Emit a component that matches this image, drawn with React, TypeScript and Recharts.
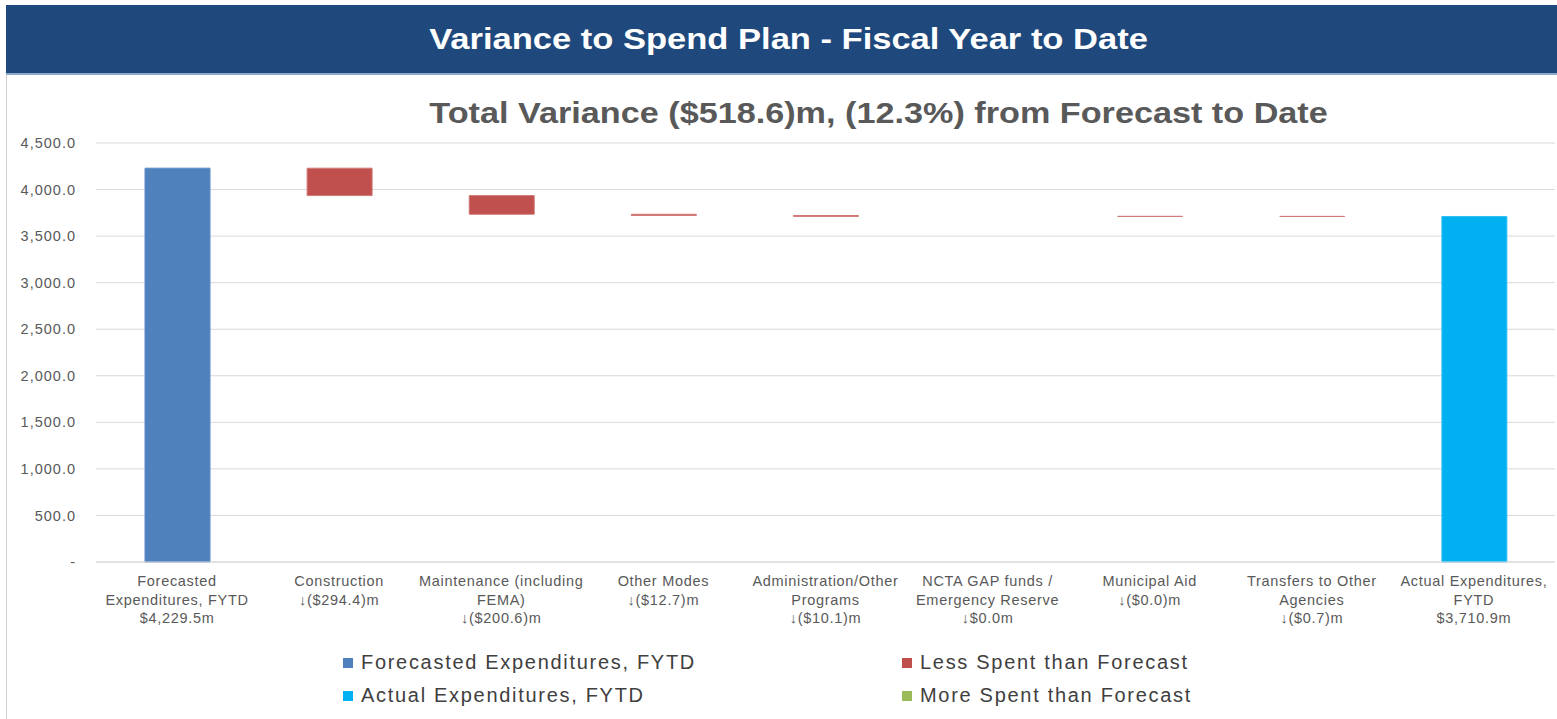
import React from "react";
import { BarChart, Bar, XAxis, YAxis, CartesianGrid } from "recharts";

const categories = [
  "Forecasted Expenditures, FYTD",
  "Construction",
  "Maintenance (including FEMA)",
  "Other Modes",
  "Administration/Other Programs",
  "NCTA GAP funds / Emergency Reserve",
  "Municipal Aid",
  "Transfers to Other Agencies",
  "Actual Expenditures, FYTD",
];

const categoryLabelLines = [
  ["Forecasted", "Expenditures, FYTD", "$4,229.5m"],
  ["Construction", "↓($294.4)m"],
  ["Maintenance (including", "FEMA)", "↓($200.6)m"],
  ["Other Modes", "↓($12.7)m"],
  ["Administration/Other", "Programs", "↓($10.1)m"],
  ["NCTA GAP funds /", "Emergency Reserve", "↓$0.0m"],
  ["Municipal Aid", "↓($0.0)m"],
  ["Transfers to Other", "Agencies", "↓($0.7)m"],
  ["Actual Expenditures,", "FYTD", "$3,710.9m"],
];

const forecastValues = [4229.5, 0, 0, 0, 0, 0, 0, 0, 0];
const lessSpentValues = [0, 294.4, 200.6, 12.7, 10.1, 0, 0.04, 0.7, 0];
const moreSpentValues = [0, 0, 0, 0, 0, 0, 0, 0, 0];
const actualValues = [0, 0, 0, 0, 0, 0, 0, 0, 3710.9];

const yTicks = [0, 500, 1000, 1500, 2000, 2500, 3000, 3500, 4000, 4500];

const legendItems = [
  { label: "Forecasted Expenditures, FYTD", color: "#4F81BD" },
  { label: "Less Spent than Forecast", color: "#C0504D" },
  { label: "Actual Expenditures, FYTD", color: "#00B0F0" },
  { label: "More Spent than Forecast", color: "#9BBB59" },
];

const titleText = "Variance to Spend Plan - Fiscal Year to Date";
const subtitleText = "Total Variance ($518.6)m, (12.3%) from Forecast to Date";

// build waterfall table
let running = 0;
const data = categories.map((name, i) => {
  let base = 0;
  if (forecastValues[i] > 0) {
    running = forecastValues[i];
  } else if (actualValues[i] > 0) {
    base = 0;
  } else {
    running = running - lessSpentValues[i] + moreSpentValues[i];
    base = running;
  }
  return {
    name,
    idx: i,
    base,
    forecast: forecastValues[i],
    less: lessSpentValues[i],
    more: moreSpentValues[i],
    actual: actualValues[i],
  };
});

const FONT = "'Liberation Sans', Arial, sans-serif";

const XTick = (props: any) => {
  const { x, y, payload } = props;
  const lines = categoryLabelLines[payload.index] || [];
  return (
    <g transform={`translate(${x},${y})`}>
      <text
        textAnchor="middle"
        fill="#595959"
        fontSize={14.5}
        fontFamily={FONT}
        style={{ letterSpacing: "0.7px" }}
      >
        {lines.map((l, i) => (
          <tspan key={i} x={0} dy={i === 0 ? 16 : 18.5}>
            {l}
          </tspan>
        ))}
      </text>
    </g>
  );
};

const yFmt = (v: number) =>
  v === 0
    ? "-"
    : v.toLocaleString("en-US", { minimumFractionDigits: 1, maximumFractionDigits: 1 });

export default function App() {
  return (
    <div
      style={{
        position: "absolute",
        left: 0,
        top: 0,
        width: 1557,
        height: 719,
        background: "#fff",
        fontFamily: FONT,
        overflow: "hidden",
      }}
    >
      <div
        style={{
          position: "absolute",
          left: 6,
          top: 5,
          width: 1551,
          height: 714,
          borderLeft: "1px solid #D0D0D0",
          borderTop: "1px solid #D0D0D0",
        }}
      />
      <div
        style={{
          position: "absolute",
          left: 6,
          top: 5,
          width: 1551,
          height: 68,
          background: "#1F497D",
          borderBottom: "2px solid #8EA9C8",
        }}
      />
      <div
        style={{
          position: "absolute",
          left: 16,
          top: 5,
          width: 1551,
          height: 68,
          lineHeight: "68px",
          textAlign: "center",
          color: "#fff",
          fontWeight: "bold",
          fontSize: 29,
          transform: "scaleX(1.19)",
          transformOrigin: "791px 0",
        }}
      >
        {titleText}
      </div>
      <div
        style={{
          position: "absolute",
          left: 100,
          top: 96,
          width: 1557,
          textAlign: "center",
          color: "#595959",
          fontWeight: "bold",
          fontSize: 30,
          transform: "scaleX(1.14)",
          transformOrigin: "778px 0",
        }}
      >
        {subtitleText}
      </div>
      <div style={{ position: "absolute", left: 0, top: 0 }}>
        <BarChart
          width={1557}
          height={719}
          data={data}
          margin={{ top: 143, right: 2, left: 6, bottom: 97 }}
          barSize={65}
        >
          <CartesianGrid vertical={false} stroke="#D9D9D9" />
          <XAxis
            dataKey="name"
            interval={0}
            tick={<XTick />}
            tickLine={false}
            axisLine={{ stroke: "#D9D9D9" }}
            height={60}
          />
          <YAxis
            width={90}
            domain={[0, 4500]}
            ticks={yTicks}
            tickFormatter={yFmt}
            axisLine={false}
            tickLine={false}
            tickMargin={14}
            tick={{ fill: "#595959", fontSize: 14.5, fontFamily: FONT, style: { letterSpacing: "1px" } }}
          />
          <Bar dataKey="base" stackId="a" fill="transparent" isAnimationActive={false} />
          <Bar dataKey="forecast" stackId="a" fill="#4F81BD" stroke="#5A8AC6" isAnimationActive={false} />
          <Bar dataKey="less" stackId="a" fill="#C0504D" stroke="#D07A78" strokeWidth={1} isAnimationActive={false} />
          <Bar dataKey="more" stackId="a" fill="#9BBB59" isAnimationActive={false} />
          <Bar dataKey="actual" stackId="a" fill="#00B0F0" stroke="#33C0F3" isAnimationActive={false} />
        </BarChart>
      </div>
      {legendItems.map((it, i) => (
        <div
          key={it.label}
          style={{
            position: "absolute",
            left: i % 2 === 0 ? 343 : 902,
            top: i < 2 ? 651 : 684,
            display: "flex",
            alignItems: "center",
            fontSize: 20,
            color: "#404040",
            whiteSpace: "nowrap",
            letterSpacing: "1.7px",
          }}
        >
          <span
            style={{
              display: "inline-block",
              width: 10,
              height: 10,
              background: it.color,
              marginRight: 8,
            }}
          />
          {it.label}
        </div>
      ))}
    </div>
  );
}
